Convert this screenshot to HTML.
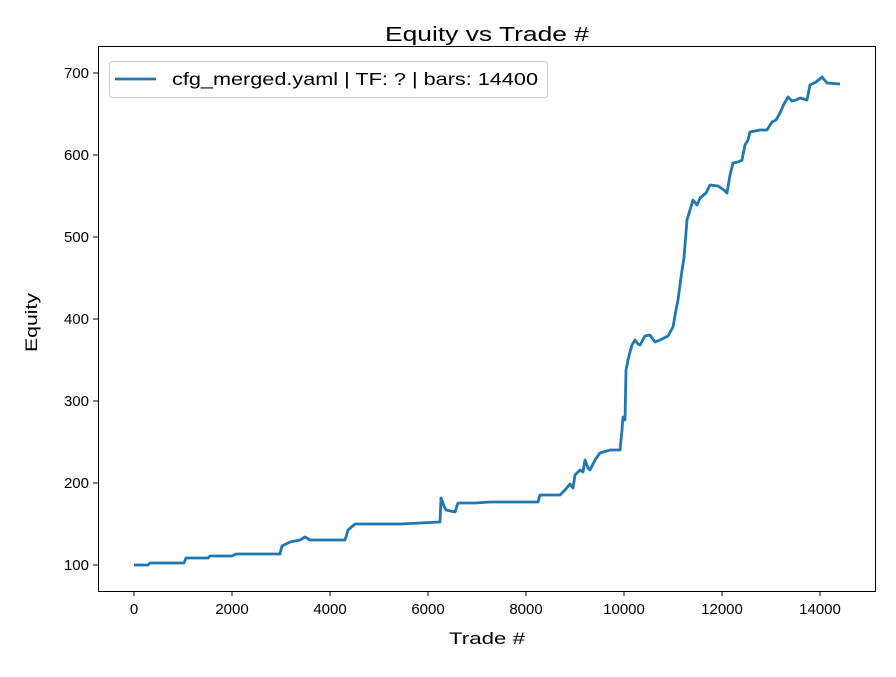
<!DOCTYPE html>
<html><head><meta charset="utf-8"><style>body{margin:0;background:#fff}</style></head><body>
<svg width="896" height="672" xmlns="http://www.w3.org/2000/svg" font-family="Liberation Sans, DejaVu Sans, sans-serif">
<rect width="896" height="672" fill="#fff"/>
<polyline fill="none" stroke="#1f77b4" stroke-width="2.8" stroke-linejoin="round" points="134,565 148,565 150,563 184,563 186,558 208,558 210,556 232,556 236,554 280,554 282,546 290,542 300,540 305,537 310,540 345,540 348,530 355,524 400,524 440,522 441,498 444,506 446,510 455,512 458,503 475,503 490,502 538,502 540,495 560,495 565,490 570,484 573,488 575,475 580,470 583,472 585,460 588,468 590,470 595,460 600,453 610,450 620,450 622,430 623,417 625,420 626,370 628,360 630,352 632,345 635,340 638,344 640,345 645,336 650,335 655,342 660,340 668,336 673,327 676,310 678,300 682,270 684,258 687,220 690,210 693,200 697,205 700,198 706,193 710,185 718,186 724,190 727,193 730,175 733,163 738,162 742,160 745,145 748,140 750,132 760,130 767,130 772,122 776,120 780,113 784,104 788,97 792,101 796,100 800,98 807,100 810,85 816,82 822,77 827,83 840,84"/>
<rect x="98.5" y="46.5" width="777" height="545" fill="none" stroke="#000" stroke-width="1"/>
<g stroke="#000" stroke-width="1">
<line x1="134" y1="591" x2="134" y2="596"/><line x1="232" y1="591" x2="232" y2="596"/><line x1="330" y1="591" x2="330" y2="596"/><line x1="428" y1="591" x2="428" y2="596"/><line x1="526" y1="591" x2="526" y2="596"/><line x1="624" y1="591" x2="624" y2="596"/><line x1="722" y1="591" x2="722" y2="596"/><line x1="820" y1="591" x2="820" y2="596"/>
<line x1="93" y1="565" x2="98" y2="565"/><line x1="93" y1="483" x2="98" y2="483"/><line x1="93" y1="401" x2="98" y2="401"/><line x1="93" y1="319" x2="98" y2="319"/><line x1="93" y1="237" x2="98" y2="237"/><line x1="93" y1="155" x2="98" y2="155"/><line x1="93" y1="73" x2="98" y2="73"/>
</g>
<g font-size="15" text-anchor="middle" fill="#000">
<text x="134" y="614">0</text><text x="232" y="614">2000</text><text x="330" y="614">4000</text><text x="428" y="614">6000</text><text x="526" y="614">8000</text><text x="624" y="614">10000</text><text x="722" y="614">12000</text><text x="820" y="614">14000</text>
</g>
<g font-size="15" text-anchor="end" fill="#000">
<text x="89" y="570">100</text><text x="89" y="488">200</text><text x="89" y="406">300</text><text x="89" y="324">400</text><text x="89" y="242">500</text><text x="89" y="160">600</text><text x="89" y="78">700</text>
</g>
<text x="449" y="644" font-size="16.5" textLength="76" lengthAdjust="spacingAndGlyphs">Trade #</text>
<text x="37" y="352" font-size="16.5" transform="rotate(-90 37 352)" textLength="59" lengthAdjust="spacingAndGlyphs">Equity</text>
<text x="385" y="41" font-size="20" textLength="204" lengthAdjust="spacingAndGlyphs">Equity vs Trade #</text>
<rect x="109.5" y="61.5" width="438" height="36" rx="3" fill="#fff" stroke="#ccc"/>
<line x1="115" y1="79" x2="156" y2="79" stroke="#1f77b4" stroke-width="2.8"/>
<text x="172" y="85" font-size="17.5" textLength="366" lengthAdjust="spacingAndGlyphs">cfg_merged.yaml | TF: ? | bars: 14400</text>
</svg>
</body></html>
